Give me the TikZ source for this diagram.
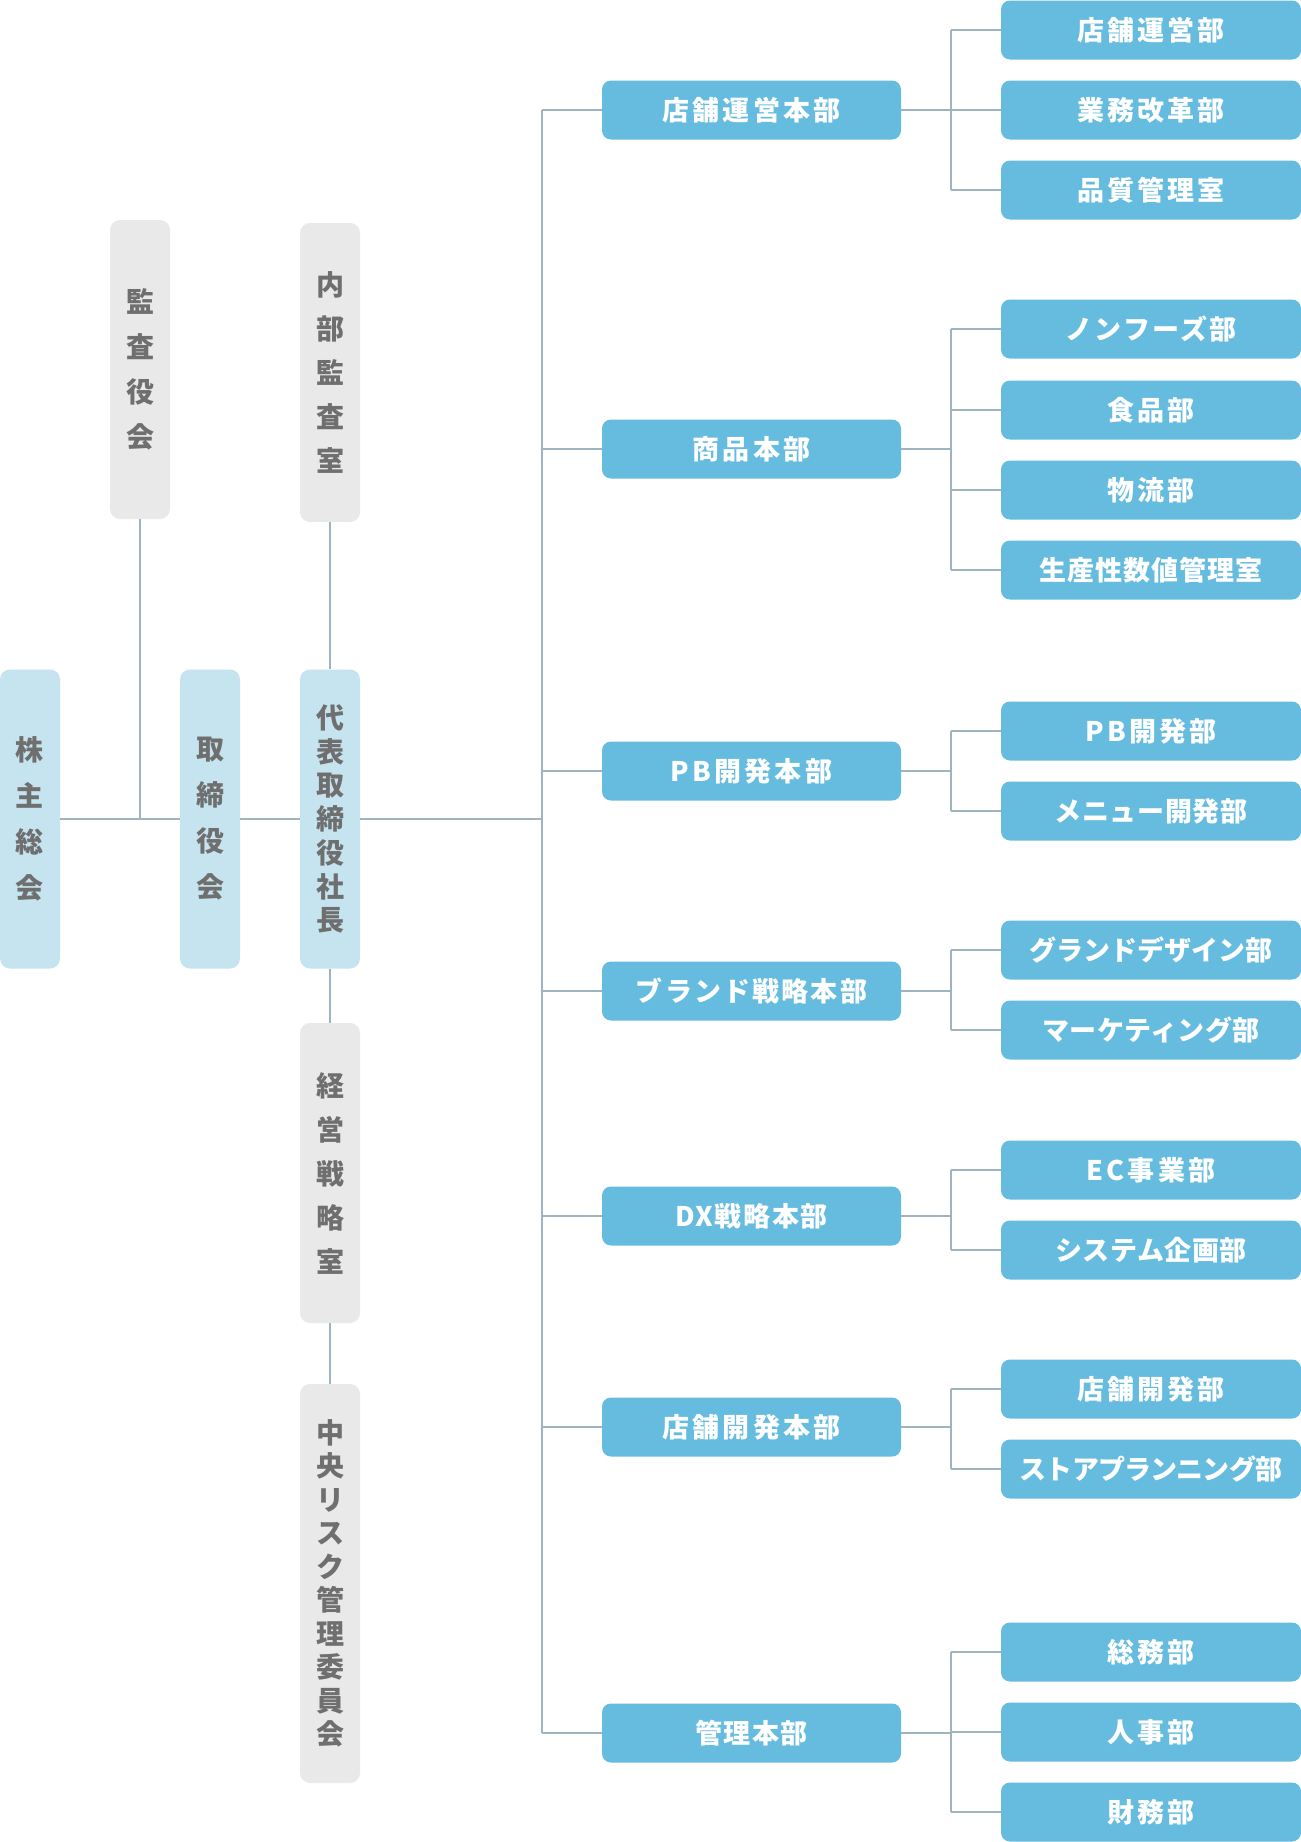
\documentclass[tikz,border=0pt]{standalone}
\usepackage{fontspec}
\setmainfont{Noto Sans CJK JP}
\definecolor{bluebox}{HTML}{65BCDF}
\definecolor{lightbox}{HTML}{C5E4EF}
\definecolor{graybox}{HTML}{E9E9E9}
\definecolor{linecol}{HTML}{A0B4BF}
\definecolor{graytext}{HTML}{6F6F6F}
\tikzset{
  conn/.style={draw=linecol, line width=2pt},
  tb/.style={font=\bfseries\fontsize{27}{30}\selectfont\addfontfeature{LetterSpace=#1}},
  tb/.default=12,
  bluebox/.style={fill=bluebox, rounded corners=9pt, text=white, inner sep=0pt,
    minimum height=59pt, text height=23.8pt, text depth=3.2pt},
  midbox/.style={bluebox, minimum width=299pt},
  subbox/.style={bluebox, minimum width=300pt},
  vbox/.style={rounded corners=10pt, inner sep=0pt, minimum width=60pt, text=graytext, align=center},
  vwide/.style={font=\bfseries\fontsize{28}{#1}\selectfont},
  lightv/.style={vbox, fill=lightbox},
  grayv/.style={vbox, fill=graybox},
}
\begin{document}
\begin{tikzpicture}[x=1pt,y=-1pt]
\useasboundingbox[fill=white] (0,0) rectangle (1301,1842);
% left column
\node[lightv, vwide=46, minimum height=299pt] (kabu) at (30,819) {株\\主\\総\\会};
\node[grayv, vwide=45, minimum height=299pt] (kansa) at (140,369.5) {監\\査\\役\\会};
\node[lightv, vwide=46, minimum height=299pt] (tori) at (210,819) {取\\締\\役\\会};
\node[grayv, vwide=44, minimum height=299pt] (naibu) at (330,372.5) {内\\部\\監\\査\\室};
\node[lightv, vwide=33.7, minimum height=299pt] (pres) at (330,819) {代\\表\\取\\締\\役\\社\\長};
\node[grayv, vwide=44, minimum height=300pt] (keiei) at (330,1173) {経\\営\\戦\\略\\室};
\node[grayv, vwide=33.5, minimum height=399pt] (risk) at (330,1583.5) {中\\央\\リ\\ス\\ク\\管\\理\\委\\員\\会};
% mid column
\node[midbox, tb] (m1) at (751.5,110) {店舗運営本部};
\node[midbox, tb] (m2) at (751.5,449) {商品本部};
\node[midbox, tb] (m3) at (751.5,771) {PB開発本部};
\node[midbox, tb=8] (m4) at (751.5,991) {ブランド戦略本部};
\node[midbox, tb=6] (m5) at (751.5,1216) {DX戦略本部};
\node[midbox, tb] (m6) at (751.5,1427) {店舗開発本部};
\node[midbox, tb=6] (m7) at (751.5,1733) {管理本部};
% right column
\node[subbox, tb] (s11) at (1151,30) {店舗運営部};
\node[subbox, tb] (s12) at (1151,110) {業務改革部};
\node[subbox, tb] (s13) at (1151,190) {品質管理室};
\node[subbox, tb=8] (s21) at (1151,329) {ノンフーズ部};
\node[subbox, tb] (s22) at (1151,410) {食品部};
\node[subbox, tb] (s23) at (1151,490) {物流部};
\node[subbox, tb=4] (s24) at (1151,570) {生産性数値管理室};
\node[subbox, tb] (s31) at (1151,731) {PB開発部};
\node[subbox, tb=2] (s32) at (1151,811) {メニュー開発部};
\node[subbox, tb=0] (s41) at (1151,950) {グランドデザイン部};
\node[subbox, tb=2] (s42) at (1151,1030) {マーケティング部};
\node[subbox, tb] (s51) at (1151,1170) {EC事業部};
\node[subbox, tb=2] (s52) at (1151,1250) {システム企画部};
\node[subbox, tb] (s61) at (1151,1389) {店舗開発部};
\node[subbox, tb=-3] (s62) at (1151,1469) {ストアプランニング部};
\node[subbox, tb] (s71) at (1151,1652) {総務部};
\node[subbox, tb] (s72) at (1151,1732) {人事部};
\node[subbox, tb] (s73) at (1151,1812) {財務部};
% connectors
\coordinate (tx) at (542,0);
\coordinate (sx) at (951,0);
\draw[conn] (kabu.east) -- (tori.west);
\draw[conn] (tori.east) -- (pres.west);
\draw[conn] (pres.east) -- (pres.east -| tx);
\draw[conn] (kansa.south) -- (kansa.south |- kabu.east);
\draw[conn] (naibu.south) -- (pres.north);
\draw[conn] (pres.south) -- (keiei.north);
\draw[conn] (keiei.south) -- (risk.north);
\draw[conn] (tx |- m1.west) -- (tx |- m7.west);
\foreach \m in {m1,m2,m3,m4,m5,m6,m7}{
  \draw[conn] (tx |- \m.west) -- (\m.west);
}
\foreach \m/\a/\b/\list in {m1/s11/s13/{s11,s12,s13}, m2/s21/s24/{s21,s22,s23,s24}, m3/s31/s32/{s31,s32}, m4/s41/s42/{s41,s42}, m5/s51/s52/{s51,s52}, m6/s61/s62/{s61,s62}, m7/s71/s73/{s71,s72,s73}}{
  \draw[conn] (\m.east) -- (\m.east -| sx);
  \draw[conn] (sx |- \a.west) -- (sx |- \b.west);
  \foreach \s in \list { \draw[conn] (sx |- \s.west) -- (\s.west); }
}
\end{tikzpicture}
\end{document}
